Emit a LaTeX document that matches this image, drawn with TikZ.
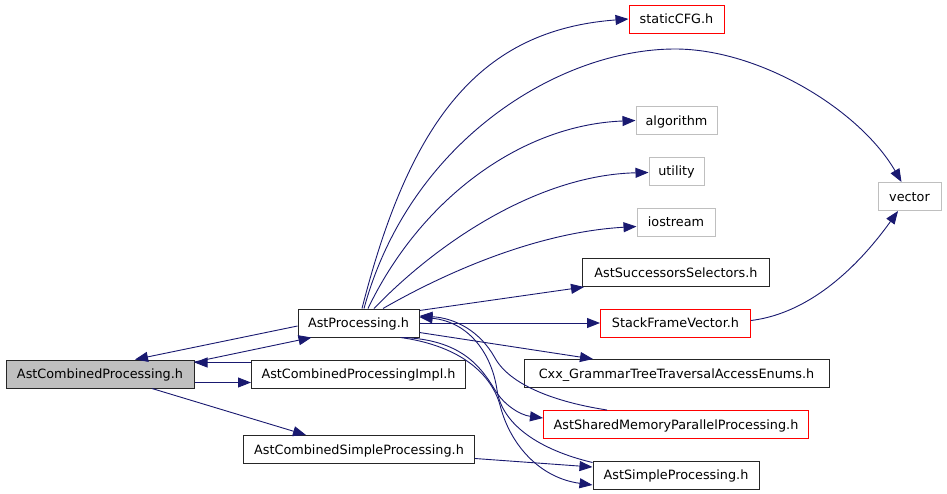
\documentclass[tikz,border=0pt]{standalone}
\usepackage{fontspec}
\setmainfont{DejaVu Sans}
\usetikzlibrary{arrows.meta}
\definecolor{edgeblue}{HTML}{191970}
\definecolor{nodegray}{HTML}{BFBFBF}
\begin{document}
\begin{tikzpicture}[x=1pt,y=-1pt,
  box/.style={draw=black!85, line width=1pt, fill=white, inner sep=0pt, minimum height=28pt,
    text height=9.3pt, text depth=0pt, font=\fontsize{12.8}{15}\selectfont},
  redbox/.style={box, draw=red},
  graybox/.style={box, draw=nodegray},
  edge/.style={draw=edgeblue, line width=0.9pt, -{Triangle[length=13pt,width=10pt]}}]
\useasboundingbox[fill=white] (0,0) rectangle (947,493);

\node[box, fill=nodegray, minimum width=188pt] (cp) at (100,374) {AstCombinedProcessing.h};
\node[box, minimum width=121pt] (ap) at (358.5,323) {AstProcessing.h};
\node[box, minimum width=214pt] (impl) at (358.5,374) {AstCombinedProcessingImpl.h};
\node[box, minimum width=231pt] (csp) at (359,449.5) {AstCombinedSimpleProcessing.h};
\node[redbox, minimum width=95pt] (cfg) at (676.5,19) {staticCFG.h};
\node[graybox, minimum width=81pt] (alg) at (676.5,120.5) {algorithm};
\node[graybox, minimum width=55pt] (util) at (676.5,171) {utility};
\node[graybox, minimum width=78pt] (ios) at (676,222) {iostream};
\node[graybox, minimum width=63pt] (vec) at (909.5,196.5) {vector};
\node[box, minimum width=187pt] (succ) at (676,272.5) {AstSuccessorsSelectors.h};
\node[redbox, minimum width=150pt] (sfv) at (675.5,323) {StackFrameVector.h};
\node[box, minimum width=305pt] (cxx) at (676.5,373.5) {Cxx\_GrammarTreeTraversalAccessEnums.h};
\node[redbox, minimum width=265pt] (smp) at (676,424.5) {AstSharedMemoryParallelProcessing.h};
\node[box, minimum width=166pt] (simple) at (676,475) {AstSimpleProcessing.h};

\draw[edge] ([yshift=-3pt]ap.west) -- ([xshift=35pt]cp.north);
\draw[edge] ([yshift=-2.5pt]cp.north east) -- ([xshift=14pt]ap.south west);
\draw[edge] ([yshift=-3pt]impl.north west) -- ([yshift=-3pt]cp.north east);
\draw[edge] ([yshift=6pt]cp.south east) -- ([yshift=6pt]impl.south west);
\draw[edge] ([xshift=52pt]cp.south) -- ([xshift=63pt]csp.north west);
\draw[edge] ([yshift=-9pt]csp.east) -- ([yshift=8pt]simple.west);

\draw[edge] ([xshift=3.5pt]ap.north) .. controls (410,120) and (480,30) .. (cfg.west);
\draw[edge] ([xshift=5.5pt]ap.north) .. controls (410,140) and (560,49) .. (675,49)
  .. controls (760,49) and (860,110) .. ([xshift=-8pt]vec.north);
\draw[edge] ([xshift=9.5pt]ap.north) .. controls (420,200) and (520,125) .. (alg.west);
\draw[edge] ([xshift=15.5pt]ap.north) .. controls (440,240) and (540,175) .. ([yshift=-1.5pt]util.west);
\draw[edge] ([xshift=24.5pt]ap.north) .. controls (450,270) and (540,232) .. ([yshift=-4.5pt]ios.west);
\draw[edge] ([yshift=-2pt]ap.north east) -- ([xshift=2pt]succ.south west);
\draw[edge] (ap.east) -- (sfv.west);
\draw[edge] ([yshift=2.5pt]sfv.east) .. controls (820,312) and (870,250) .. ([xshift=-11.5pt]vec.south);
\draw[edge] ([yshift=-9.5pt]ap.east) -- ([xshift=69.5pt]cxx.north west);
\draw[edge] ([xshift=64pt]smp.north west) .. controls (555,402) and (510,385) .. (495,358)
  .. controls (480,331) and (455,318) .. ([yshift=7pt]ap.east);
\draw[edge] ([yshift=-2pt]simple.north west) .. controls (540,450) and (502,425) .. (497,390)
  .. controls (492,355) and (470,322) .. ([yshift=6pt]ap.east);
\draw[edge] ([xshift=-16pt]ap.south east) .. controls (460,340) and (480,365) .. (495,390)
  .. controls (504,405) and (520,415) .. ([yshift=6.5pt]smp.west);
\draw[edge] ([xshift=-19pt]ap.south east) .. controls (455,345) and (490,370) .. (500,405)
  .. controls (510,445) and (540,478) .. ([yshift=-10pt]simple.west);
\end{tikzpicture}
\end{document}
